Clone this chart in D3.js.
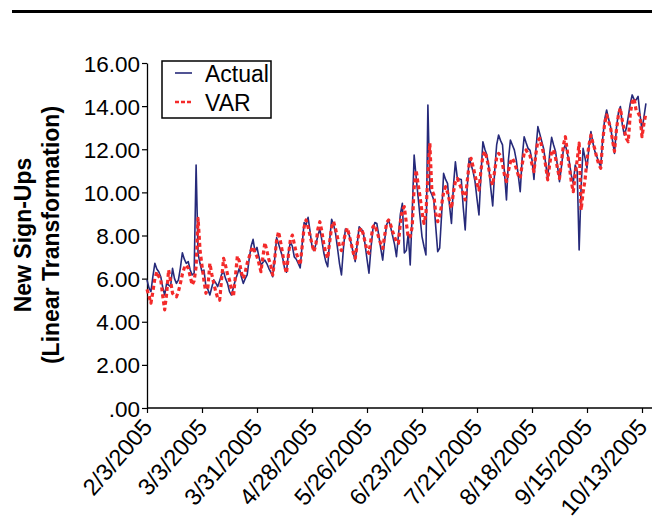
<!DOCTYPE html>
<html>
<head>
  <meta charset="UTF-8">
  <style>
    body {
      margin: 0;
      background: #fff;
      font-family: Arial, "Liberation Sans", sans-serif;
    }
    svg text { fill: #000; }
  </style>
</head>
<body>
  <svg width="652" height="529"></svg>
  <script src="https://d3js.org/d3.v7.min.js"></script>
  <script>
    // daily series starting 2/3/2005
    let startDate = new Date(Date.UTC(2005, 1, 3));

    let actual = [
      5.94, 5.57, 5.4, 6.1, 6.71, 6.45, 6.32,
      6.09, 5.6, 5.24, 5.78, 5.7, 5.63, 6.48,
      6.0, 5.78, 5.94, 6.5, 7.2, 6.9, 6.71,
      6.79, 6.4, 6.17, 6.25, 11.27, 7.16, 6.7,
      6.32, 6.4, 5.63, 5.5, 5.24, 5.6, 5.94,
      5.8, 5.63, 5.9, 6.2, 6.32, 6.0, 5.78,
      5.4, 5.24, 5.6, 5.94, 6.2, 6.48, 6.1,
      5.78, 6.0, 6.17, 6.9, 7.5, 7.82, 7.25,
      7.45, 7.0, 6.63, 6.75, 6.86, 6.7, 6.48,
      6.3, 6.09, 6.9, 7.9, 7.6, 7.3, 7.0,
      6.5, 6.3, 7.2, 7.7, 7.5, 7.0, 6.9,
      6.7, 6.5, 7.6, 8.6, 8.5, 8.84, 8.2,
      7.5, 7.3, 7.6, 8.0, 8.3, 7.8, 7.2,
      6.8, 6.55, 7.8, 8.75, 8.5, 8.1, 7.4,
      6.7, 6.17, 7.4, 8.3, 8.2, 8.0, 7.6,
      7.2, 6.79, 7.6, 8.4, 8.3, 8.2, 7.6,
      6.9, 6.25, 7.4, 8.3, 8.6, 8.56, 8.0,
      7.4, 6.86, 7.8, 8.5, 8.72, 8.4, 8.0,
      7.6, 7.02, 8.0, 9.0, 9.49, 7.19, 7.3,
      8.1, 6.63, 9.0, 11.73, 10.73, 9.8, 8.87,
      7.95, 7.5, 7.1, 14.05, 10.1, 9.9, 9.65,
      8.4, 7.25, 7.42, 9.0, 10.88, 10.6, 10.42,
      9.4, 8.56, 10.3, 11.42, 10.65, 10.62, 10.6,
      9.3, 8.26, 10.2, 11.58, 11.3, 10.96, 10.5,
      9.7, 8.95, 10.8, 12.35, 12.0, 11.73, 11.2,
      10.2, 9.37, 11.0, 12.2, 12.66, 12.4, 12.2,
      10.9, 9.65, 11.5, 12.43, 12.2, 11.97, 11.5,
      10.8, 10.03, 11.6, 12.58, 12.3, 12.04, 11.95,
      11.5, 10.6, 12.0, 13.05, 12.7, 12.35, 12.0,
      11.3, 10.65, 11.8, 12.55, 12.2, 11.9, 11.2,
      10.5, 11.2, 12.0, 12.2, 11.8, 11.42, 10.8,
      10.42, 11.27, 11.0, 7.33, 10.26, 12.04, 11.6,
      11.12, 12.12, 12.82, 12.3, 11.9, 11.66, 11.4,
      11.19, 12.5, 13.4, 13.82, 13.4, 13.05, 12.4,
      11.81, 13.0, 13.7, 13.98, 13.13, 12.66, 12.97,
      13.5, 14.1, 14.52, 14.3, 14.29, 14.45, 13.6,
      12.89, 13.5, 14.13
    ];

    let varForecast = [
      5.5, 5.2, 4.86, 5.4, 6.0, 6.32, 6.1,
      5.94, 5.2, 4.55, 5.3, 6.4, 5.9, 5.32,
      5.2, 5.16, 5.4, 5.78, 6.2, 6.5, 6.63,
      6.48, 6.1, 5.71, 5.9, 6.55, 8.8, 7.33,
      6.6, 5.9, 5.32, 5.6, 6.71, 6.2, 5.78,
      5.4, 5.1, 5.0, 6.0, 6.94, 6.6, 6.2,
      5.94, 5.5, 5.16, 6.1, 7.05, 6.8, 6.3,
      6.0, 6.3, 6.71, 7.0, 7.3, 7.48, 7.2,
      7.02, 6.7, 6.32, 7.0, 7.67, 7.3, 6.9,
      6.63, 6.17, 6.9, 7.8, 8.18, 7.7, 7.2,
      6.6, 6.25, 7.1, 7.8, 8.02, 7.6, 7.2,
      6.9, 6.63, 7.5, 8.4, 8.72, 8.4, 8.0,
      7.6, 7.25, 7.6, 8.3, 8.64, 8.2, 7.6,
      7.2, 6.94, 7.7, 8.4, 8.64, 8.3, 7.9,
      7.5, 7.3, 7.7, 8.1, 8.35, 8.0, 7.6,
      7.2, 6.94, 7.6, 8.2, 8.35, 8.1, 7.7,
      7.3, 7.17, 7.8, 8.4, 8.49, 8.2, 7.9,
      7.6, 7.4, 8.0, 8.6, 8.72, 8.5, 8.2,
      7.95, 7.7, 7.64, 8.6, 9.2, 9.34, 8.6,
      7.9, 7.95, 8.4, 10.2, 11.04, 10.4, 9.8,
      9.1, 8.56, 9.0, 10.8, 12.28, 10.1, 9.9,
      9.03, 8.64, 8.9, 9.42, 10.0, 10.26, 10.0,
      9.6, 9.26, 10.0, 10.5, 10.65, 10.4, 10.2,
      9.9, 9.65, 10.5, 11.3, 11.58, 11.2, 10.8,
      10.4, 10.11, 11.0, 11.7, 11.9, 11.6, 11.1,
      10.6, 10.34, 11.0, 11.6, 11.81, 11.7, 11.3,
      10.8, 10.5, 11.0, 11.4, 11.58, 11.4, 11.1,
      10.8, 10.65, 11.3, 11.8, 11.97, 11.8, 11.7,
      11.3, 10.96, 11.8, 12.4, 12.51, 12.1, 11.8,
      11.2, 10.58, 11.3, 11.9, 11.97, 11.6, 11.1,
      10.65, 11.4, 12.2, 12.58, 11.9, 11.2, 10.5,
      10.03, 10.8, 11.5, 12.28, 9.18, 10.0, 10.58,
      11.5, 12.2, 12.66, 12.3, 12.0, 11.6, 11.3,
      11.12, 12.4, 13.2, 13.59, 13.3, 13.0, 12.4,
      11.9, 12.9, 13.6, 13.9, 13.3, 12.9, 12.5,
      12.35, 13.6, 14.2, 14.36, 13.8, 13.7, 13.5,
      12.58, 13.2, 13.67
    ];

    let xTickLabels = ["2/3/2005", "3/3/2005", "3/31/2005", "4/28/2005", "5/26/2005",
                       "6/23/2005", "7/21/2005", "8/18/2005", "9/15/2005", "10/13/2005"];
    let yTicks = [0, 2, 4, 6, 8, 10, 12, 14, 16];

    let seriesNames = ["Actual", "VAR"];
    let colors = { Actual: "#262a7a", VAR: "#f42a2a" };

    let svg = d3.select("svg");

    let parseTick = d3.utcParse("%m/%d/%Y");
    let tickDates = xTickLabels.map(parseTick);

    let x = d3.scaleUtc()
        .domain([startDate, tickDates[tickDates.length - 1]])
        .range([147, 642]);

    let y = d3.scaleLinear()
        .domain([0, 16])
        .range([408, 63]);

    let dayOf = i => d3.utcDay.offset(startDate, i);

    // top rule
    svg.append("rect")
        .attr("x", 12).attr("y", 10)
        .attr("width", 640).attr("height", 3)
        .attr("fill", "#000");

    // y axis
    let yAxis = svg.append("g")
        .attr("transform", "translate(147,0)")
        .call(d3.axisLeft(y)
            .tickValues(yTicks)
            .tickSize(5)
            .tickSizeOuter(0)
            .tickFormat(d => d === 0 ? ".00" : d.toFixed(2)));
    yAxis.select(".domain").attr("stroke", "#000").attr("stroke-width", 1.3);
    yAxis.selectAll(".tick line").attr("stroke-width", 1.2);
    yAxis.selectAll("text")
        .attr("x", -7)
        .attr("dy", "0.36em")
        .style("font-size", "22.5px")
        .style("font-family", "Arial, 'Liberation Sans', sans-serif");

    // x axis
    let xAxis = svg.append("g")
        .attr("transform", "translate(0,408)")
        .call(d3.axisBottom(x)
            .tickValues(tickDates)
            .tickSize(5)
            .tickSizeOuter(0)
            .tickFormat((d, i) => xTickLabels[i]));
    xAxis.select(".domain").remove();
    xAxis.append("line")
        .attr("x1", 147).attr("x2", 652)
        .attr("stroke", "#000").attr("stroke-width", 1.6);
    xAxis.selectAll(".tick line").attr("stroke-width", 1.2);
    xAxis.selectAll("text")
        .attr("y", 0).attr("dy", 0)
        .attr("transform", "translate(6,20) rotate(-49)")
        .attr("text-anchor", "end")
        .style("font-size", "23.5px")
        .style("font-family", "Arial, 'Liberation Sans', sans-serif");

    // y title
    let yTitle = svg.append("text")
        .attr("transform", "translate(0,235) rotate(-90)")
        .attr("text-anchor", "middle")
        .style("font-size", "23px")
        .style("font-weight", "bold");
    yTitle.append("tspan").attr("x", 0).attr("y", 31).text("New Sign-Ups");
    yTitle.append("tspan").attr("x", 0).attr("y", 59).text("(Linear Transformation)");

    // lines
    let line = d3.line()
        .x((d, i) => x(dayOf(i)))
        .y(d => y(d));

    svg.append("path")
        .datum(actual)
        .attr("fill", "none")
        .attr("stroke", colors.Actual)
        .attr("stroke-width", 1.6)
        .attr("stroke-linejoin", "round")
        .attr("d", line);

    svg.append("path")
        .datum(varForecast)
        .attr("fill", "none")
        .attr("stroke", colors.VAR)
        .attr("stroke-width", 3.2)
        .attr("stroke-dasharray", "4,3")
        .attr("stroke-linejoin", "round")
        .attr("d", line);

    // legend
    let legend = svg.append("g").attr("transform", "translate(162,61)");
    legend.append("rect")
        .attr("width", 109).attr("height", 57)
        .attr("fill", "#fff")
        .attr("stroke", "#000").attr("stroke-width", 1.5);

    let items = legend.selectAll(".item")
        .data(seriesNames)
        .enter().append("g")
        .attr("class", "item")
        .attr("transform", (d, i) => `translate(0,${12 + i * 29})`);

    items.append("line")
        .attr("x1", 13).attr("x2", 30)
        .attr("stroke", d => colors[d])
        .attr("stroke-width", d => d === "VAR" ? 2.5 : 1.6)
        .attr("stroke-dasharray", d => d === "VAR" ? "4,2" : null);

    items.append("text")
        .attr("x", 43).attr("y", 9)
        .style("font-size", "23px")
        .text(d => d);
  </script>
</body>
</html>
